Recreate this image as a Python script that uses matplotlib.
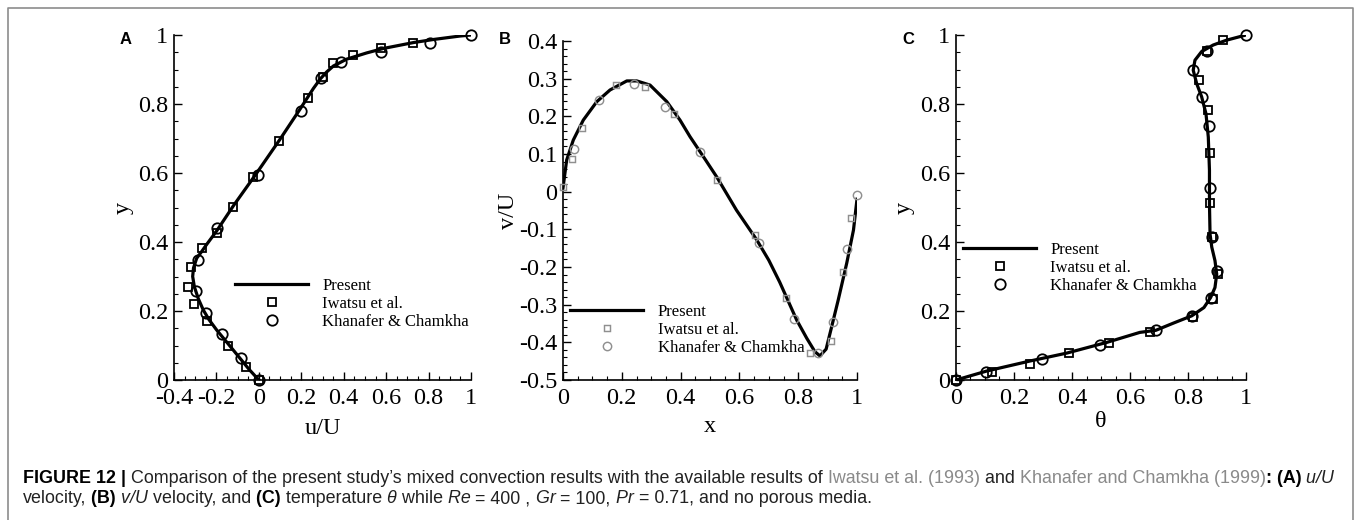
import matplotlib
matplotlib.use('Agg')
import matplotlib.pyplot as plt
from matplotlib.ticker import MultipleLocator, FuncFormatter
from matplotlib.lines import Line2D
from matplotlib import font_manager

# (A) u/U along the vertical mid line
a_present_u = [0, -0.045, -0.089, -0.145, -0.199, -0.235, -0.262, -0.285, -0.304, -0.312, -0.308,
               -0.293, -0.270, -0.246, -0.199, -0.12, -0.010, 0.1, 0.194, 0.257, 0.290, 0.320,
               0.351, 0.414, 0.508, 0.587, 0.728, 0.823, 0.948, 1.0]
a_present_y = [0, 0.03, 0.063, 0.105, 0.145, 0.175, 0.203, 0.235, 0.27, 0.30, 0.325,
               0.353, 0.372, 0.393, 0.432, 0.505, 0.600, 0.698, 0.785, 0.845, 0.873, 0.893,
               0.910, 0.930, 0.948, 0.961, 0.978, 0.987, 0.997, 1.0]
a_iwatsu_u = [0, -0.062, -0.144, -0.243, -0.304, -0.332, -0.321, -0.270, -0.199, -0.120, -0.029,
              0.095, 0.233, 0.301, 0.351, 0.442, 0.576, 0.728]
a_iwatsu_y = [0, 0.039, 0.099, 0.171, 0.219, 0.271, 0.328, 0.382, 0.427, 0.502, 0.589,
              0.693, 0.818, 0.879, 0.918, 0.942, 0.963, 0.976]
a_khan_u = [0, -0.086, -0.175, -0.249, -0.296, -0.287, -0.199, -0.002, 0.199, 0.292, 0.386,
            0.576, 0.807, 1.0]
a_khan_y = [0, 0.063, 0.133, 0.193, 0.259, 0.348, 0.440, 0.594, 0.781, 0.874, 0.923,
            0.952, 0.978, 1.0]

# (B) v/U along the horizontal mid line
b_present_x = [0, 0.0125, 0.035, 0.069, 0.115, 0.160, 0.217, 0.251, 0.296, 0.353, 0.398, 0.432,
               0.48, 0.523, 0.590, 0.659, 0.700, 0.737, 0.768, 0.795, 0.829, 0.857, 0.874, 0.895,
               0.914, 0.936, 0.965, 0.988, 1.0]
b_present_v = [0.01, 0.084, 0.137, 0.190, 0.239, 0.270, 0.294, 0.294, 0.283, 0.239, 0.190, 0.146,
               0.090, 0.039, -0.049, -0.128, -0.182, -0.240, -0.294, -0.341, -0.389, -0.425, -0.436,
               -0.418, -0.358, -0.288, -0.190, -0.102, -0.02]
b_iwatsu_x = [0, 0.031, 0.064, 0.180, 0.279, 0.378, 0.525, 0.653, 0.758, 0.839, 0.913, 0.952, 0.981]
b_iwatsu_v = [0.013, 0.088, 0.170, 0.282, 0.278, 0.205, 0.030, -0.115, -0.281, -0.429, -0.396,
              -0.213, -0.071]
b_khan_x = [0.036, 0.121, 0.242, 0.347, 0.466, 0.667, 0.785, 0.868, 0.919, 0.966, 1.0]
b_khan_v = [0.114, 0.243, 0.285, 0.225, 0.106, -0.136, -0.339, -0.428, -0.345, -0.153, -0.008]

# (C) temperature along the vertical mid line
c_present_t = [0, 0.106, 0.255, 0.382, 0.520, 0.634, 0.689, 0.75, 0.813, 0.855, 0.878, 0.893,
               0.899, 0.893, 0.882, 0.876, 0.874, 0.874, 0.870, 0.862, 0.847, 0.830, 0.818,
               0.824, 0.847, 0.887, 0.933, 1.0]
c_present_y = [0, 0.026, 0.055, 0.078, 0.109, 0.138, 0.144, 0.165, 0.186, 0.210, 0.239, 0.268,
               0.307, 0.346, 0.385, 0.423, 0.511, 0.608, 0.704, 0.772, 0.821, 0.859, 0.898,
               0.927, 0.952, 0.971, 0.985, 1.0]
c_iwatsu_t = [0, 0.123, 0.255, 0.389, 0.529, 0.669, 0.818, 0.885, 0.905, 0.883, 0.876, 0.876,
              0.868, 0.839, 0.864, 0.922]
c_iwatsu_y = [0, 0.024, 0.047, 0.077, 0.106, 0.138, 0.183, 0.234, 0.307, 0.414, 0.513, 0.658,
              0.784, 0.869, 0.954, 0.985]
c_khan_t = [0, 0.103, 0.295, 0.497, 0.689, 0.813, 0.878, 0.899, 0.882, 0.876, 0.871, 0.849,
            0.818, 0.864, 1.0]
c_khan_y = [0, 0.024, 0.062, 0.102, 0.144, 0.186, 0.239, 0.317, 0.414, 0.557, 0.735, 0.819,
            0.898, 0.954, 1.0]

legend_labels = ['Present', 'Iwatsu et al.', 'Khanafer & Chamkha']

W, H = 1360, 520
SERIF = 'Liberation Serif'


def pick_caption_font():
    names = {f.name for f in font_manager.fontManager.ttflist}
    if 'Liberation Sans Narrow' in names:
        return 'Liberation Sans Narrow', 15
    return 'Liberation Sans', 12.9


def tick_fmt(v, pos):
    return '%g' % round(v, 3)


def style_axes(ax, xmaj, ymaj, xmin, ymin):
    for s in ['top', 'right']:
        ax.spines[s].set_visible(False)
    for s in ['left', 'bottom']:
        ax.spines[s].set_linewidth(1.2)
    ax.xaxis.set_major_locator(MultipleLocator(xmaj))
    ax.yaxis.set_major_locator(MultipleLocator(ymaj))
    ax.xaxis.set_minor_locator(MultipleLocator(xmin))
    ax.yaxis.set_minor_locator(MultipleLocator(ymin))
    ax.xaxis.set_major_formatter(FuncFormatter(tick_fmt))
    ax.yaxis.set_major_formatter(FuncFormatter(tick_fmt))
    ax.tick_params(which='major', direction='in', length=6, width=1,
                   labelsize=17.5, top=False, right=False)
    ax.tick_params(axis='x', which='major', pad=6)
    ax.tick_params(axis='y', which='major', pad=4)
    ax.tick_params(which='minor', direction='in', length=3, width=0.8, top=False, right=False)
    for lab in ax.get_xticklabels() + ax.get_yticklabels():
        lab.set_fontfamily(SERIF)


def add_panel(fig, rect, line_xy, sq_xy, circ_xy, mk_color, mk_scale, leg_xy):
    ax = fig.add_axes(rect)
    ax.plot(line_xy[0], line_xy[1], color='black', lw=2.3, label=legend_labels[0], zorder=3)
    ax.plot(sq_xy[0], sq_xy[1], ls='none', marker='s', ms=6 * mk_scale, mfc='none',
            mec=mk_color, mew=1.3 * mk_scale, label=legend_labels[1], clip_on=False, zorder=4)
    ax.plot(circ_xy[0], circ_xy[1], ls='none', marker='o', ms=7.5 * mk_scale, mfc='none',
            mec=mk_color, mew=1.3 * mk_scale, label=legend_labels[2], clip_on=False, zorder=4)
    ax.legend(loc='upper left', bbox_to_anchor=(leg_xy[0] / W, 1 - leg_xy[1] / H),
              bbox_transform=fig.transFigure, frameon=False, borderpad=0, borderaxespad=0,
              handlelength=4.4, handletextpad=0.85, labelspacing=0.12,
              prop={'family': SERIF, 'size': 12})
    return ax


def ax_rect(left, right, top, bottom):
    return [left / W, 1 - bottom / H, (right - left) / W, (bottom - top) / H]


def draw_caption(fig, font, size):
    base = 'black'
    txt_c = '#222222'
    link = '#8a8a8a'
    lines = [
        (483, [('FIGURE 12 |', 'bold', 'normal', base),
               (' Comparison of the present study\u2019s mixed convection results with the available results of', 'normal', 'normal', txt_c),
               (' Iwatsu et al. (1993)', 'normal', 'normal', link),
               (' and', 'normal', 'normal', txt_c),
               (' Khanafer and Chamkha (1999)', 'normal', 'normal', link),
               (':', 'bold', 'normal', base),
               (' (A)', 'bold', 'normal', base),
               (' u/U', 'normal', 'italic', txt_c)]),
        (503, [('velocity,', 'normal', 'normal', txt_c),
               (' (B)', 'bold', 'normal', base),
               (' v/U', 'normal', 'italic', txt_c),
               (' velocity, and', 'normal', 'normal', txt_c),
               (' (C)', 'bold', 'normal', base),
               (' temperature', 'normal', 'normal', txt_c),
               (' \u03b8', 'normal', 'italic', txt_c),
               (' while', 'normal', 'normal', txt_c),
               (' Re', 'normal', 'italic', txt_c),
               (' = 400 ,', 'normal', 'normal', txt_c),
               (' Gr', 'normal', 'italic', txt_c),
               (' = 100,', 'normal', 'normal', txt_c),
               (' Pr', 'normal', 'italic', txt_c),
               (' = 0.71, and no porous media.', 'normal', 'normal', txt_c)]),
    ]
    fig.canvas.draw()
    renderer = fig.canvas.get_renderer()
    for ypix, pieces in lines:
        x = 23
        for txt, weight, style, col in pieces:
            t = fig.text(x / W, 1 - ypix / H, txt, fontsize=size, family=[font, 'DejaVu Sans'],
                         fontweight=weight, fontstyle=style, color=col, va='baseline', ha='left')
            x = t.get_window_extent(renderer).x1


def main():
    plt.rcParams['axes.unicode_minus'] = False
    fig = plt.figure(figsize=(W / 100, H / 100), dpi=100)

    ax_a = add_panel(fig, ax_rect(174, 471, 35, 380), (a_present_u, a_present_y),
                     (a_iwatsu_u, a_iwatsu_y), (a_khan_u, a_khan_y), 'black', 1.0, (235, 278))
    ax_a.set_xlim(-0.4, 1)
    ax_a.set_ylim(0, 1)
    style_axes(ax_a, 0.2, 0.2, 0.05, 0.05)
    ax_a.set_xlabel('u/U', family=SERIF, fontsize=17.5, labelpad=6)
    ax_a.set_ylabel('y', family=SERIF, fontsize=17.5, labelpad=3)

    ax_b = add_panel(fig, ax_rect(563, 857, 41, 380), (b_present_x, b_present_v),
                     (b_iwatsu_x, b_iwatsu_v), (b_khan_x, b_khan_v), '#8f8f8f', 0.8, (570, 304))
    ax_b.set_xlim(0, 1)
    ax_b.set_ylim(-0.5, 0.4)
    style_axes(ax_b, 0.2, 0.1, 0.05, 0.02)
    ax_b.set_xlabel('x', family=SERIF, fontsize=17.5, labelpad=5)
    ax_b.set_ylabel('v/U', family=SERIF, fontsize=17.5, labelpad=0)

    ax_c = add_panel(fig, ax_rect(956, 1246, 35, 380), (c_present_t, c_present_y),
                     (c_iwatsu_t, c_iwatsu_y), (c_khan_t, c_khan_y), 'black', 1.0, (963, 242))
    ax_c.set_xlim(0, 1)
    ax_c.set_ylim(0, 1)
    style_axes(ax_c, 0.2, 0.2, 0.05, 0.05)
    ax_c.set_xlabel('\u03b8', family=SERIF, fontsize=17.5, labelpad=1)
    ax_c.set_ylabel('y', family=SERIF, fontsize=17.5, labelpad=4)

    for lab, px, py in [('A', 126, 40), ('B', 505, 40), ('C', 908, 40)]:
        fig.text(px / W, 1 - py / H, lab, fontsize=12, fontweight='bold',
                 family='Liberation Sans', ha='center', va='center')

    # outer frame of the figure panel
    fx0, fx1, fy = 8 / W, 1353 / W, 1 - 8 / H
    fig.add_artist(Line2D([fx0, fx0, fx1, fx1], [0, fy, fy, 0], transform=fig.transFigure,
                          color='#8c8c8c', lw=1.2))

    font, size = pick_caption_font()
    draw_caption(fig, font, size)
    fig.savefig('out.png', dpi=100)


if __name__ == "__main__":
    main()
